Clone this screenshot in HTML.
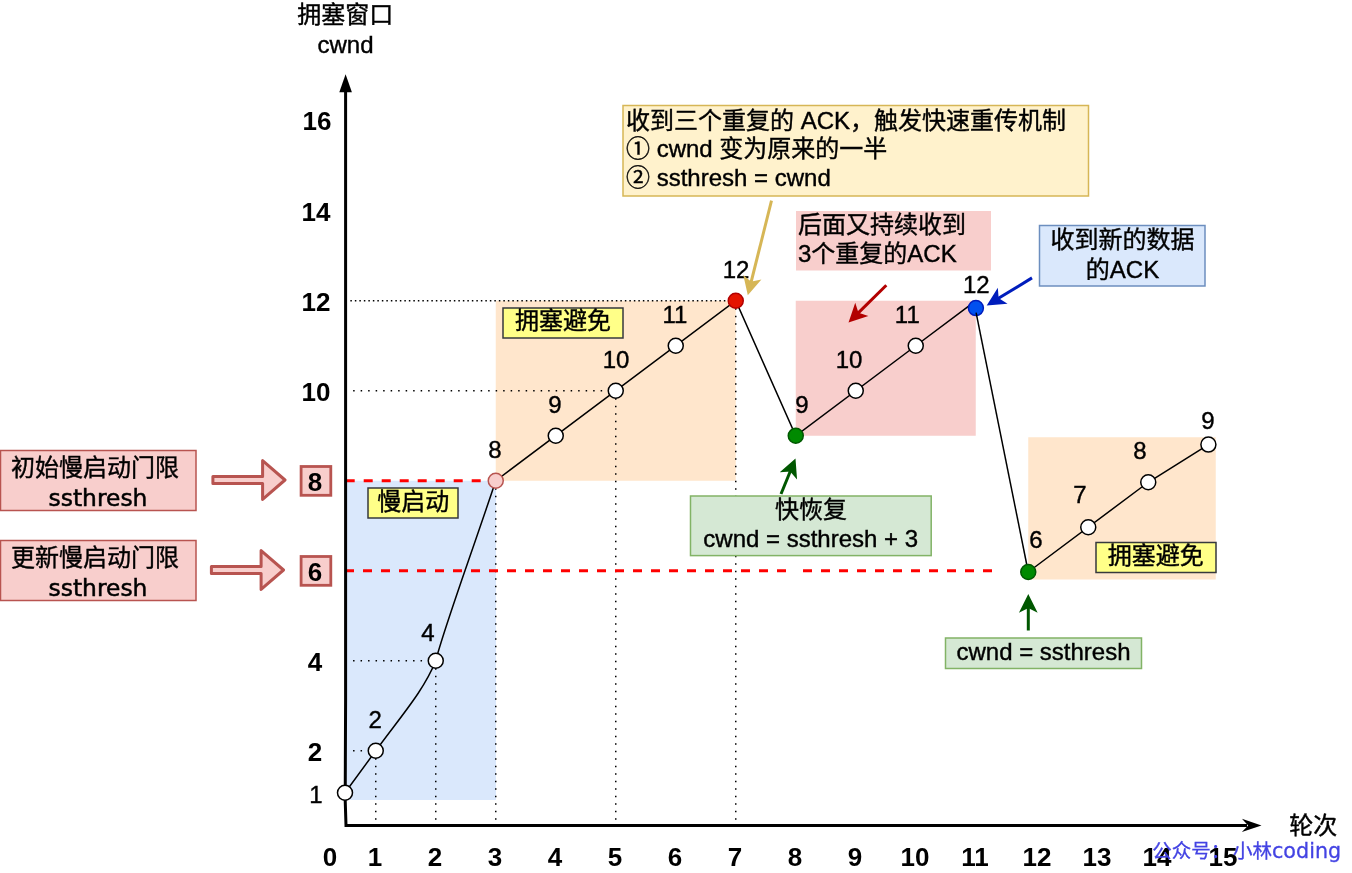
<!DOCTYPE html>
<html lang="zh"><head><meta charset="utf-8"><title>TCP 拥塞控制</title>
<style>
html,body{margin:0;padding:0;background:#fff;}
body{width:1352px;height:873px;overflow:hidden;}
svg{display:block;}
text{font-family:"Liberation Sans","Noto Sans CJK SC",sans-serif;font-size:24px;fill:#000;stroke:#000;stroke-width:0.4px;}
.b{font-family:"Liberation Sans",sans-serif;font-weight:bold;font-size:26px;stroke:none;}
.cm{font-family:"DejaVu Sans","Liberation Sans",sans-serif;font-size:23.4px;stroke:#000;stroke-width:0.5px;}
.m{text-anchor:middle;}
.dot{stroke:#000;stroke-width:1.5;stroke-dasharray:1.5 6;fill:none;}
.dotd{stroke:#000;stroke-width:1.5;stroke-dasharray:1.5 3;fill:none;}
.ln{stroke:#000;stroke-width:1.5;fill:none;}
.wc{fill:#fff;stroke:#000;stroke-width:1.5;}
.rd{stroke:#ff0000;stroke-width:3;stroke-dasharray:9 9;fill:none;}
</style></head><body>
<svg width="1352" height="873" viewBox="0 0 1352 873">
<rect width="1352" height="873" fill="#fff"/>

<rect x="346" y="480.75" width="150" height="319.25" fill="#dae8fc"/>
<rect x="495.75" y="300.75" width="240" height="180" fill="#ffe6cc"/>
<rect x="795.75" y="300.75" width="180" height="135" fill="#f8cecc"/>
<rect x="1028.25" y="437.25" width="187.5" height="142.25" fill="#ffe6cc"/>
<path class="dotd" d="M350.35 300.75H736"/>
<path class="dot" d="M353.15 390.75H609"/>
<path class="dot" d="M353.05 660.75H429"/>
<path class="dot" d="M353.05 750.75H369"/>
<path class="dot" d="M375.75 819.75V757.75"/>
<path class="dot" d="M435.75 819.75V667.75"/>
<path class="dot" d="M495.75 819.75V487.75"/>
<path class="dot" d="M615.75 819.75V397.75"/>
<path class="dot" d="M735.75 819.75V307.75"/>
<path class="rd" d="M345.7 480.75H488"/>
<path class="rd" d="M345 570.75H786"/>
<path class="rd" d="M803 570.75H992"/>
<path d="M345.6 90V700L345.2 800L346 825.5H1247" stroke="#000" stroke-width="3" fill="none" stroke-linejoin="miter"/>
<path d="M345.6 74.2L351.9 92.3H339.3Z" fill="#000"/>
<path d="M1261.5 825.4L1241.9 832.1L1248.2 825.4L1241.9 818.8Z" fill="#000"/>
<path class="ln" d="M345 792.75L375.75 750.75C401.2 715.8 423.7 690.8 435.75 660.75C444 628 470 558 495.75 480.75"/>
<path class="ln" d="M495.75 480.75L735.75 300.75L795.75 435.75L915.75 345.75L970 305.06M1028.25 572L1148.25 482.25L1208.4 444.6"/>
<circle class="wc" cx="345" cy="792.75" r="7.5"/>
<circle class="wc" cx="375.75" cy="750.75" r="7.5"/>
<circle class="wc" cx="435.75" cy="660.75" r="7.5"/>
<circle class="wc" cx="555.75" cy="435.75" r="7.5"/>
<circle class="wc" cx="615.75" cy="390.75" r="7.5"/>
<circle class="wc" cx="675.75" cy="345.75" r="7.5"/>
<circle class="wc" cx="855.75" cy="390.75" r="7.5"/>
<circle class="wc" cx="915.75" cy="345.75" r="7.5"/>
<circle class="wc" cx="1088.25" cy="527.25" r="7.5"/>
<circle class="wc" cx="1148.25" cy="482.25" r="7.5"/>
<circle class="wc" cx="1208.4" cy="444.6" r="7.5"/>
<circle cx="495.75" cy="480.75" r="7.5" fill="#f8cecc" stroke="#b85450" stroke-width="1.5"/>
<circle cx="735.75" cy="300.75" r="7.5" fill="#e51400" stroke="#b20000" stroke-width="1.5"/>
<circle cx="795.75" cy="435.75" r="7.5" fill="#008a00" stroke="#005700" stroke-width="1.5"/>
<circle cx="975.9" cy="308.1" r="7.5" fill="#0050ef" stroke="#001dbc" stroke-width="1.5"/>
<path class="ln" d="M976.1 312.6L1028.25 572"/>
<circle cx="1028.25" cy="572" r="7.5" fill="#008a00" stroke="#005700" stroke-width="1.5"/>
<text class="m" x="375.3" y="727.5">2</text>
<text class="m" x="428" y="641">4</text>
<text class="m" x="495" y="458">8</text>
<text class="m" x="555" y="413">9</text>
<text class="m" x="616" y="368">10</text>
<text class="m" x="675" y="323">11</text>
<text class="m" x="736" y="278">12</text>
<text class="m" x="802" y="413">9</text>
<text class="m" x="849" y="368">10</text>
<text class="m" x="907.3" y="323">11</text>
<text class="m" x="976.3" y="292.8">12</text>
<text class="m" x="1036" y="548">6</text>
<text class="m" x="1080" y="503">7</text>
<text class="m" x="1140" y="458.5">8</text>
<text class="m" x="1208" y="428.7">9</text>
<text class="b m" x="317" y="130">16</text>
<text class="b m" x="316" y="221">14</text>
<text class="b m" x="316" y="311">12</text>
<text class="b m" x="316" y="401">10</text>
<text class="b m" x="315" y="671">4</text>
<text class="b m" x="315" y="761">2</text>
<text class="m" x="316" y="802.5">1</text>
<text class="b m" x="330" y="865.5">0</text>
<text class="b m" x="375" y="865.5">1</text>
<text class="b m" x="435" y="865.5">2</text>
<text class="b m" x="495" y="865.5">3</text>
<text class="b m" x="555" y="865.5">4</text>
<text class="b m" x="615" y="865.5">5</text>
<text class="b m" x="675" y="865.5">6</text>
<text class="b m" x="735" y="865.5">7</text>
<text class="b m" x="795" y="865.5">8</text>
<text class="b m" x="855" y="865.5">9</text>
<text class="b m" x="915" y="865.5">10</text>
<text class="b m" x="975" y="865.5">11</text>
<text class="b m" x="1037" y="865.5">12</text>
<text class="b m" x="1097" y="865.5">13</text>
<text class="b m" x="1157" y="865.5">14</text>
<text class="b m" x="1223" y="865.5">15</text>
<text class="m" x="345.3" y="22.5">拥塞窗口</text>
<text class="m" x="345.5" y="53">cwnd</text>
<text class="m" x="1313.3" y="833.5">轮次</text>
<rect x="503" y="308" width="120" height="30" fill="#ffff88" stroke="#36393d" stroke-width="1.5"/>
<text class="m" x="563" y="329.2">拥塞避免</text>
<rect x="1096" y="542.5" width="120" height="30" fill="#ffff88" stroke="#36393d" stroke-width="1.5"/>
<text class="m" x="1155.7" y="563.5">拥塞避免</text>
<rect x="368" y="488" width="90" height="30" fill="#ffff88" stroke="#36393d" stroke-width="1.5"/>
<text class="m" x="413.2" y="509.7">慢启动</text>
<rect x="623" y="105.5" width="465.5" height="90.5" fill="#fff2cc" stroke="#d6b656" stroke-width="1.5"/>
<text x="626" y="128.5">收到三个重复的 ACK，触发快速重传机制</text>
<text x="626" y="157">① cwnd 变为原来的一半</text>
<text x="626" y="185.5">② ssthresh = cwnd</text>
<rect x="796" y="211" width="195" height="59.5" fill="#f8cecc"/>
<text x="798" y="233">后面又持续收到</text>
<text x="798" y="262">3个重复的ACK</text>
<rect x="1039.5" y="225.5" width="165.5" height="60.5" fill="#dae8fc" stroke="#6c8ebf" stroke-width="1.5"/>
<text class="m" x="1122.5" y="248">收到新的数据</text>
<text class="m" x="1122.5" y="277.5">的ACK</text>
<rect x="690.5" y="496" width="240.7" height="59.6" fill="#d5e8d4" stroke="#82b366" stroke-width="1.5"/>
<text class="m" x="811" y="517.5">快恢复</text>
<text class="m" x="810.7" y="547">cwnd = ssthresh + 3</text>
<rect x="945.5" y="638" width="196" height="30.5" fill="#d5e8d4" stroke="#82b366" stroke-width="1.5"/>
<text class="m" x="1043.5" y="660">cwnd = ssthresh</text>
<rect x="0.5" y="450.5" width="195.5" height="60" fill="#f8cecc" stroke="#b85450" stroke-width="1.5"/>
<text class="m" x="95" y="476">初始慢启动门限</text>
<text class="cm m" x="98" y="505.5">ssthresh</text>
<rect x="0.5" y="540.5" width="195.5" height="60" fill="#f8cecc" stroke="#b85450" stroke-width="1.5"/>
<text class="m" x="95" y="566">更新慢启动门限</text>
<text class="cm m" x="98" y="595.5">ssthresh</text>
<path d="M212.9 476.45H262.6V460.6L285 480L262.6 499.4V483.55H212.9Z" fill="#f8cecc" stroke="#b85450" stroke-width="3" stroke-linejoin="round"/>
<path d="M211.4 566.45H261.1V550.6L283.5 570L261.1 589.4V573.55H211.4Z" fill="#f8cecc" stroke="#b85450" stroke-width="3" stroke-linejoin="round"/>
<rect x="301.1" y="466.5" width="29.7" height="28.8" fill="#f8cecc" stroke="#b85450" stroke-width="2.8"/>
<text class="b m" x="315" y="491">8</text>
<rect x="301.1" y="556.5" width="29.7" height="28.8" fill="#f8cecc" stroke="#b85450" stroke-width="2.8"/>
<text class="b m" x="315" y="581">6</text>
<path d="M771.50 200.60L750.80 283.32" stroke="#d6b656" stroke-width="3" fill="none"/><path d="M748.61 292.05L745.71 278.95L750.80 283.32L757.35 281.86Z" fill="#d6b656" stroke="#d6b656" stroke-width="3" stroke-miterlimit="10"/>
<path d="M886.30 285.30L857.29 313.92" stroke="#b20000" stroke-width="3" fill="none"/><path d="M850.89 320.24L855.21 307.54L857.29 313.92L863.64 316.09Z" fill="#b20000" stroke="#b20000" stroke-width="3" stroke-miterlimit="10"/>
<path d="M1032.00 277.90L997.25 299.07" stroke="#001dbc" stroke-width="3" fill="none"/><path d="M989.56 303.75L996.69 292.39L997.25 299.07L1002.93 302.64Z" fill="#001dbc" stroke="#001dbc" stroke-width="3" stroke-miterlimit="10"/>
<path d="M781.00 494.00L790.82 470.03" stroke="#005700" stroke-width="3" fill="none"/><path d="M794.23 461.70L795.23 475.08L790.82 470.03L784.13 470.53Z" fill="#005700" stroke="#005700" stroke-width="3" stroke-miterlimit="10"/>
<path d="M1028.30 630.50L1028.30 606.35" stroke="#005700" stroke-width="3" fill="none"/><path d="M1028.30 597.35L1034.30 609.35L1028.30 606.35L1022.30 609.35Z" fill="#005700" stroke="#005700" stroke-width="3" stroke-miterlimit="10"/>
<text y="857.8" style="font-size:19.5px;fill:#4343e3;stroke:#4343e3;stroke-width:0.3px"><tspan x="1152.3">公众号：</tspan><tspan x="1233">小林</tspan><tspan x="1272" style="font-family:'DejaVu Sans','Liberation Sans',sans-serif;font-size:20.7px">coding</tspan></text>
</svg>
</body></html>
